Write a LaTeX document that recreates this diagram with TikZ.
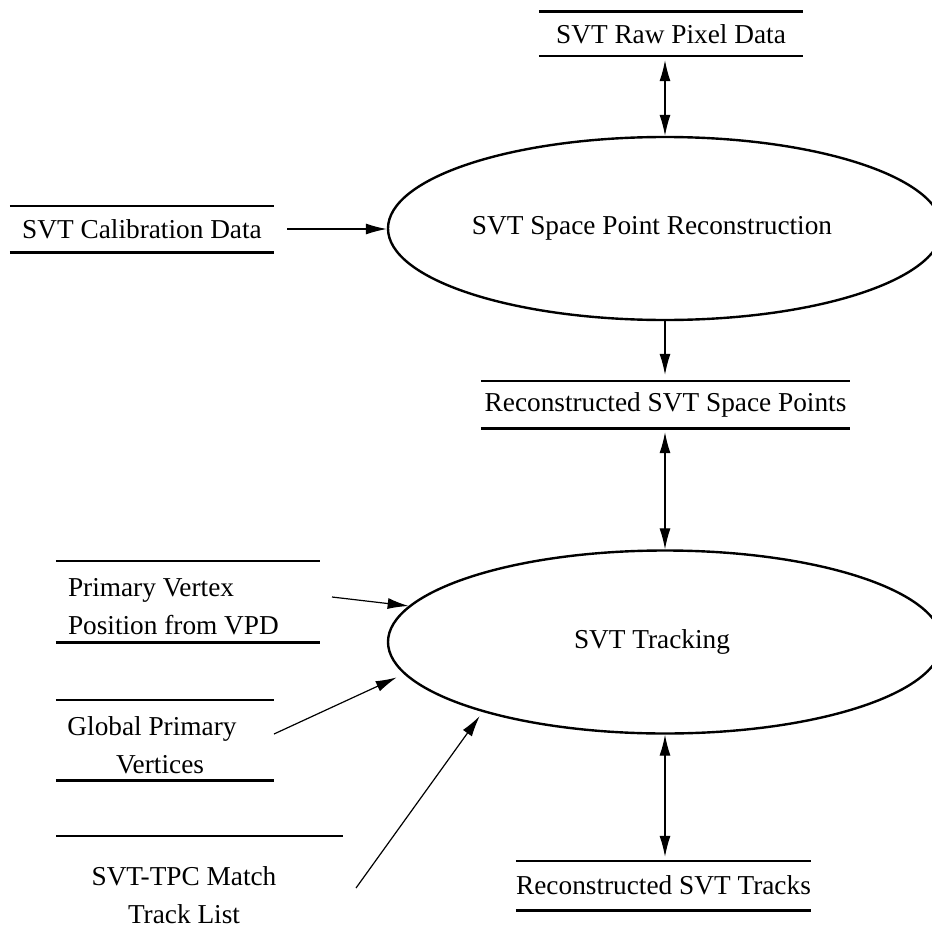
\documentclass[tikz,border=0pt]{standalone}
\usepackage{fontspec}
\setmainfont{Liberation Serif}
\usetikzlibrary{arrows.meta,shapes.geometric}
\begin{document}
\begin{tikzpicture}[x=1pt,y=-1pt,
  font=\fontsize{27.3}{38}\selectfont,
  process/.style={ellipse,draw,line width=2.4pt,inner sep=0pt,minimum width=554pt,minimum height=183pt},
  store/.style={inner sep=0pt},
  storeline/.style={line width=2.6pt},
  flow/.style={line width=1.2pt,-{Latex[length=21pt,width=11pt]}},
  dflow/.style={line width=1.2pt,{Latex[length=21pt,width=11pt]}-{Latex[length=21pt,width=11pt]}}]
\useasboundingbox (0,0) rectangle (931,939);

% processes (labels sit a little left of centre)
\node[process] (spr) at (665,228.5) {\hspace*{-26pt}SVT Space Point Reconstruction};
\node[process] (trk) at (665,642) {\hspace*{-26pt}SVT Tracking};

% data stores (text between two horizontal rules)
\node[store,minimum width=264pt,minimum height=44pt] (raw) at (671,34) {SVT Raw Pixel Data};
\node[store,minimum width=264pt,minimum height=46pt] (cal) at (142,229) {SVT Calibration Data};
\node[store,minimum width=369pt,minimum height=47pt] (sp) at (665.5,404.5) {Reconstructed SVT Space Points};
\node[store,minimum width=293pt,minimum height=49pt] (trks) at (663.5,885.5) {Reconstructed SVT Tracks};
\node[store,minimum width=264pt,minimum height=81pt] (pv) at (188,601.5) {};
\node[store,align=left,anchor=west] (pvtext) at ([xshift=12pt,yshift=-5pt]pv.west)
  {Primary Vertex\\Position from VPD};
\node[store,minimum width=218pt,minimum height=80pt] (gpv) at (165,740) {};
\node[store,align=center] (gpvtext) at ([xshift=-5pt,yshift=-5pt]gpv.center)
  {\hspace*{-16pt}Global Primary\\Vertices};
\node[store,align=center] (match) at (184,895) {SVT-TPC Match\\Track List};

\foreach \s in {raw,cal,sp,trks,pv,gpv}{
  \draw[storeline] (\s.north west) -- (\s.north east);
  \draw[storeline] (\s.south west) -- (\s.south east);
}
\coordinate (matchL) at (56,836);
\coordinate (matchR) at (343,836);
\draw[storeline] (matchL) -- (matchR);

% flows
\draw[dflow,shorten <=4pt] (spr.north |- raw.south) -- (spr.north);
\draw[flow,shorten <=13pt] (cal.east) -- (cal.east -| spr.west);
\draw[flow,shorten >=6pt] (spr.south) -- (spr.south |- sp.north);
\draw[dflow,shorten <=4pt] (trk.north |- sp.south) -- (trk.north);
\draw[dflow,shorten >=4pt] (trk.south) -- (trk.south |- trks.north);

\coordinate (pvout) at (332,597);
\coordinate (gpvout) at (274,734);
\coordinate (matchout) at (356,888);
\draw[flow] (pvout) -- (trk.172.5);
\draw[flow,shorten >=8pt] (gpvout) -- (trk.187.7);
\draw[flow,shorten >=5pt] (matchout) -- (trk.201.2);
\end{tikzpicture}
\end{document}
